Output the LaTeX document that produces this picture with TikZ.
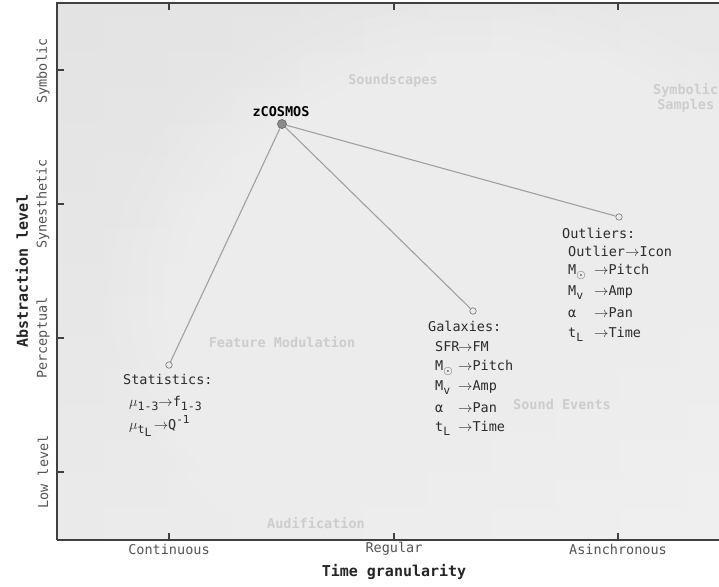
\documentclass[tikz,border=0pt]{standalone}
\usepackage{fontspec}
\setmonofont{DejaVu Sans Mono}
\definecolor{txt}{HTML}{2C2C2C}
\definecolor{ticklab}{HTML}{555555}
\definecolor{bglab}{HTML}{CDCDCD}
\definecolor{conn}{HTML}{A0A0A0}
\newcommand{\sbx}[1]{\raisebox{-0.55ex}{\fontsize{11.5}{11.5}\selectfont #1}}
\newcommand{\spx}[1]{\raisebox{0.75ex}{\fontsize{11}{11}\selectfont #1}}
\newcommand{\arr}{$\rightarrow$}
\begin{document}
\begin{tikzpicture}[x=1pt,y=-1pt,
  every node/.style={font=\ttfamily\fontsize{13.5}{15}\selectfont, inner sep=0pt},
  lab/.style={text=txt, anchor=west},
  ticklabel/.style={text=ticklab},
  axtitle/.style={text=black!85, font=\ttfamily\bfseries\fontsize{15}{17}\selectfont},
  bgtext/.style={text=bglab, font=\ttfamily\bfseries\fontsize{13.5}{15}\selectfont, align=center},
  pt/.style={circle, draw=black!55, fill=black!8, minimum size=6.5pt, line width=0.6pt},
  bigpt/.style={circle, draw=black!60, fill=black!45, minimum size=9pt, line width=0.7pt},
  link/.style={draw=conn, line width=1.1pt},
  frame/.style={draw=black!75, line width=1.3pt},
  tick/.style={draw=black!75, line width=1.1pt}]
\useasboundingbox (0,0) rectangle (719,586);
\fill[white] (0,0) rectangle (719,586);
% background
\begin{scope}
\clip (57,3) rectangle (719,540);
\shade[top color=black!18, bottom color=black!12] (57,3) rectangle (719,540);
\shade[left color=black!4, right color=white, opacity=0.5] (57,3) rectangle (719,540);
\foreach \r in {1.0,0.95,...,0.1}
  \fill[white, opacity=0.05] (470,290) ellipse ({360*\r} and {300*\r});
\foreach \r in {1.0,0.9,...,0.2}
  \fill[white, opacity=0.03] (180,480) ellipse ({180*\r} and {110*\r});
\end{scope}
% background labels
\node[bgtext] (bgsound) at (393,81) {Soundscapes};
\node[bgtext, anchor=west] (bgsym) at (653,98) {Symbolic\\Samples};
\node[bgtext] (bgfeat) at (282,342) {Feature Modulation};
\node[bgtext] (bgevents) at (562,404) {Sound Events};
\node[bgtext] (bgaud) at (316,523) {Audification};
% frame and ticks
\draw[frame] (57,540) -- (57,3) -- (719,3);
\draw[frame] (57,540) -- (719,540);
\foreach \yy in {70,204,338,472} \draw[tick] (57,\yy) -- (64,\yy);
\foreach \xx in {169,394,618} {\draw[tick] (\xx,540) -- (\xx,533); \draw[tick] (\xx,3) -- (\xx,10);}
% tick labels
\node[ticklabel, rotate=90] (ysym) at (43,71) {Symbolic};
\node[ticklabel, rotate=90] (ysyn) at (43,204) {Synesthetic};
\node[ticklabel, rotate=90] (yper) at (43,338) {Perceptual};
\node[ticklabel, rotate=90] (ylow) at (43,472) {Low level};
\node[ticklabel] (xcont) at (169,549) {Continuous};
\node[ticklabel] (xreg) at (394,549) {Regular};
\node[ticklabel] (xasin) at (618,549) {Asinchronous};
\node[axtitle] (xtitle) at (394,572) {Time granularity};
\node[axtitle, rotate=90] (ytitle) at (22,271) {Abstraction level};
% points
\node[bigpt] (zc) at (282,124) {};
\node[font=\ttfamily\bfseries\fontsize{13.5}{15}\selectfont, text=black] (zclab) at (281,112) {zCOSMOS};
\node[pt] (stat) at (169,365) {};
\node[pt] (gal) at (473,311) {};
\node[pt] (out) at (619,217) {};
\draw[link] (zc) -- (stat);
\draw[link] (zc) -- (gal);
\draw[link] (zc) -- (out);
% statistics
\node[lab] (st0) at (123,379) {Statistics:};
\node[lab] (st1) at (129,403) {$\mu$\sbx{1-3}\arr f\sbx{1-3}};
\node[lab] (st2) at (129,426) {$\mu$\sbx{t\sbx{L}}\,\arr Q\spx{-1}};
% galaxies
\node[lab] (g0) at (428,326) {Galaxies:};
\node[lab] (g1) at (435,347) {\makebox[23pt][l]{SFR}\arr FM};
\node[lab] (g2) at (435,368) {\makebox[23pt][l]{M\sbx{$\odot$}}\arr Pitch};
\node[lab] (g3) at (435,388) {\makebox[23pt][l]{M\sbx{v}}\arr Amp};
\node[lab] (g4) at (435,408) {\makebox[23pt][l]{α}\arr Pan};
\node[lab] (g5) at (435,428) {\makebox[23pt][l]{t\sbx{L}}\arr Time};
% outliers
\node[lab] (o0) at (562,233) {Outliers:};
\node[lab] (o1) at (568,251) {Outlier\arr Icon};
\node[lab] (o2) at (568,272) {\makebox[26pt][l]{M\sbx{$\odot$}}\arr Pitch};
\node[lab] (o3) at (568,293) {\makebox[26pt][l]{M\sbx{v}}\arr Amp};
\node[lab] (o4) at (568,313) {\makebox[26pt][l]{α}\arr Pan};
\node[lab] (o5) at (568,334) {\makebox[26pt][l]{t\sbx{L}}\arr Time};
\end{tikzpicture}
\end{document}
